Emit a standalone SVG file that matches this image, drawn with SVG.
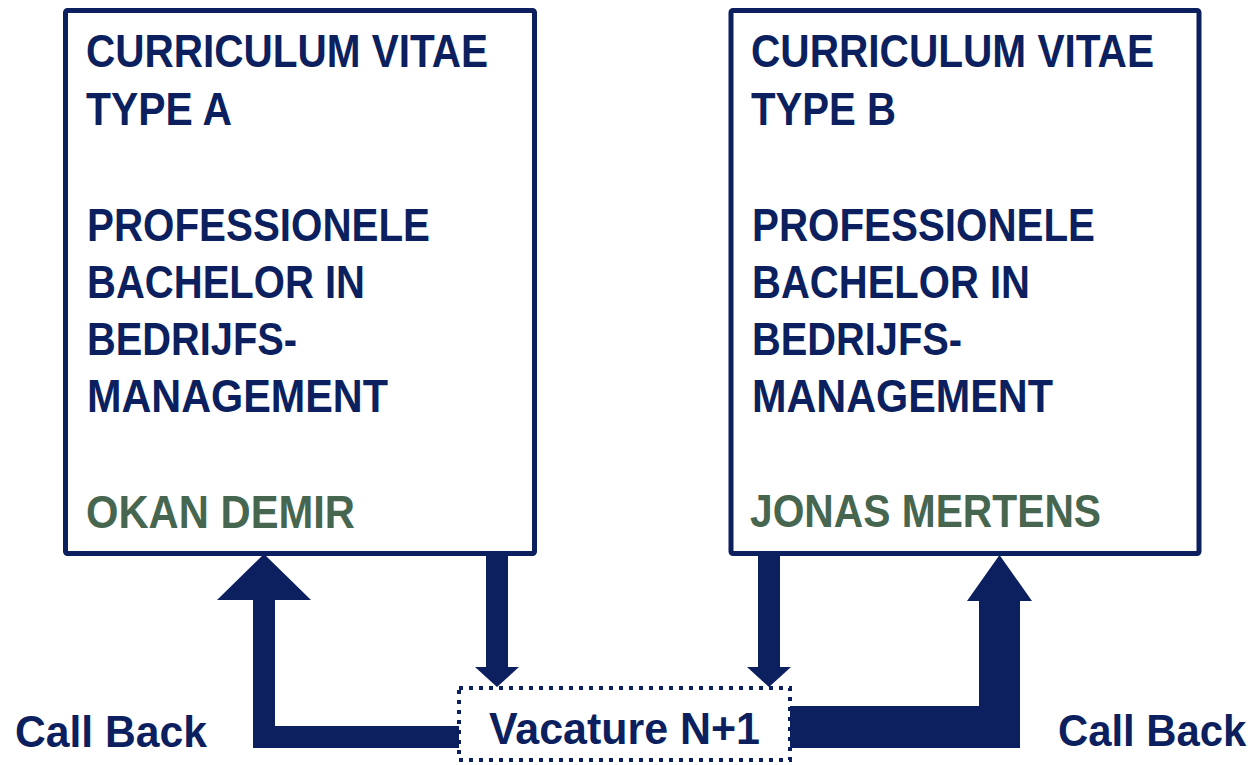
<svg xmlns="http://www.w3.org/2000/svg" width="1257" height="765" viewBox="0 0 1257 765">
  <style>
    .box { fill: #ffffff; stroke: #0c1f5e; stroke-width: 5; }
    .vac { fill: #ffffff; stroke: #0c1f5e; stroke-width: 4; stroke-dasharray: 4 6; }
    .t { font-family: "Liberation Sans", Arial, sans-serif; font-weight: bold; font-size: 46px; fill: #0c1f5e; }
    .name { fill: #466650; }
    .lbl { font-family: "Liberation Sans", Arial, sans-serif; font-weight: bold; font-size: 45px; fill: #0c1f5e; }
    .arrow { fill: #0c1f5e; }
  </style>

  <rect width="1257" height="765" fill="#ffffff"/>

  <!-- CV card A -->
  <g id="cv-a">
    <rect class="box" x="65.5" y="10.5" width="469" height="543" rx="2"/>
    <text class="t" x="86" y="67" textLength="402" lengthAdjust="spacingAndGlyphs">CURRICULUM VITAE</text>
    <text class="t" x="86" y="125" textLength="146" lengthAdjust="spacingAndGlyphs">TYPE A</text>
    <text class="t" x="87" y="241" textLength="343" lengthAdjust="spacingAndGlyphs">PROFESSIONELE</text>
    <text class="t" x="87" y="298" textLength="278" lengthAdjust="spacingAndGlyphs">BACHELOR IN</text>
    <text class="t" x="87" y="355" textLength="210" lengthAdjust="spacingAndGlyphs">BEDRIJFS-</text>
    <text class="t" x="87" y="412" textLength="301" lengthAdjust="spacingAndGlyphs">MANAGEMENT</text>
    <text class="t name" x="86" y="528" textLength="269" lengthAdjust="spacingAndGlyphs">OKAN DEMIR</text>
  </g>

  <!-- CV card B -->
  <g id="cv-b">
    <rect class="box" x="731" y="10.5" width="468" height="543" rx="2"/>
    <text class="t" x="751" y="67" textLength="403" lengthAdjust="spacingAndGlyphs">CURRICULUM VITAE</text>
    <text class="t" x="751" y="125" textLength="145" lengthAdjust="spacingAndGlyphs">TYPE B</text>
    <text class="t" x="752" y="241" textLength="343" lengthAdjust="spacingAndGlyphs">PROFESSIONELE</text>
    <text class="t" x="752" y="298" textLength="278" lengthAdjust="spacingAndGlyphs">BACHELOR IN</text>
    <text class="t" x="752" y="355" textLength="210" lengthAdjust="spacingAndGlyphs">BEDRIJFS-</text>
    <text class="t" x="752" y="412" textLength="301" lengthAdjust="spacingAndGlyphs">MANAGEMENT</text>
    <text class="t name" x="750" y="527" textLength="351" lengthAdjust="spacingAndGlyphs">JONAS MERTENS</text>
  </g>

  <!-- Vacancy box -->
  <g id="vacature">
    <rect class="vac" x="459" y="688" width="331" height="72"/>
    <text class="lbl" x="489" y="744" textLength="271" lengthAdjust="spacingAndGlyphs">Vacature N+1</text>
  </g>

  <!-- Connectors -->
  <g id="connectors">
    <!-- A to vacancy -->
    <polygon class="arrow" points="486,556 508,556 508,667 519,667 497,687 475,667 486,667"/>
    <!-- B to vacancy -->
    <polygon class="arrow" points="758,556 780,556 780,667 791,667 769,687 747,667 758,667"/>
    <!-- call back to A -->
    <polygon class="arrow" points="459,726 459,748 253,748 253,600 217,600 264,554 311,600 275,600 275,726"/>
    <!-- call back to B -->
    <polygon class="arrow" points="790,706 979,706 979,601 967,601 999.5,555 1032,601 1020,601 1020,748 790,748"/>
  </g>

  <!-- Side labels -->
  <g id="labels">
    <text class="lbl" x="15" y="747" textLength="192" lengthAdjust="spacingAndGlyphs">Call Back</text>
    <text class="lbl" x="0" y="0" transform="translate(1058 746) scale(0.93 1)">Call Back</text>
  </g>
</svg>
